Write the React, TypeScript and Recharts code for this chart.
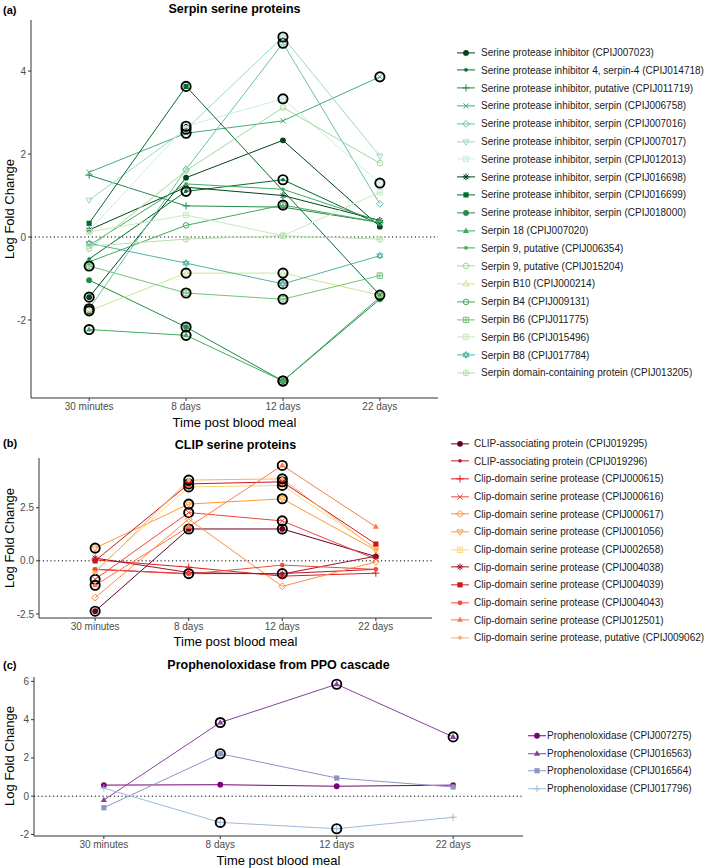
import React from "react";
import { LineChart, Line, XAxis, YAxis, ReferenceLine } from "recharts";

const FONT = '"Liberation Sans", Arial, Helvetica, sans-serif';

const times = ["30 minutes", "8 days", "12 days", "22 days"];

// (a) Serpin serine proteins
const serpinLabels = [
  "Serine protease inhibitor (CPIJ007023)",
  "Serine protease inhibitor 4, serpin-4 (CPIJ014718)",
  "Serine protease inhibitor, putative (CPIJ011719)",
  "Serine protease inhibitor, serpin (CPIJ006758)",
  "Serine protease inhibitor, serpin (CPIJ007016)",
  "Serine protease inhibitor, serpin (CPIJ007017)",
  "Serine protease inhibitor, serpin (CPIJ012013)",
  "Serine protease inhibitor, serpin (CPIJ016698)",
  "Serine protease inhibitor, serpin (CPIJ016699)",
  "Serine protease inhibitor, serpin (CPIJ018000)",
  "Serpin 18 (CPIJ007020)",
  "Serpin 9, putative (CPIJ006354)",
  "Serpin 9, putative (CPIJ015204)",
  "Serpin B10 (CPIJ000214)",
  "Serpin B4 (CPIJ009131)",
  "Serpin B6 (CPIJ011775)",
  "Serpin B6 (CPIJ015496)",
  "Serpin B8 (CPIJ017784)",
  "Serpin domain-containing protein (CPIJ013205)",
];
const serpinShapes = [
  "circle", "dot", "plus", "cross", "diamond", "triangleDown", "squareCross", "asterisk", "square", "circle",
  "triangle", "dot", "openCircle", "openTriangle", "openCircle", "squarePlus", "squarePlus", "star", "circlePlus",
];
const serpinColors = [
  "#00441b", "#006d2c", "#238b45", "#41ae76", "#66c2a4", "#99d8c9", "#ccece6", "#00441b", "#006d2c", "#238b45",
  "#41ab5d", "#41ab5d", "#a1d99b", "#c9e88f", "#41ab5d", "#74c476", "#c7e9c0", "#52b3a2", "#b5e0a8",
];
const serpinValues: (number | null)[][] = [
  [-1.45, 1.43, 2.33, 0.25],
  [-0.53, 1.1, 1.38, 0.3],
  [1.49, 0.75, 0.72, 0.35],
  [1.56, 2.5, 2.8, 3.86],
  [-1.73, 1.63, 4.67, 0.8],
  [0.89, 2.6, 4.82, 1.95],
  [0.15, 2.67, 3.33, 1.3],
  [0.17, 1.2, 1.0, 0.4],
  [0.33, 3.63, null, -1.4],
  [-1.04, -2.17, -3.47, -1.5],
  [-2.23, -2.37, -3.47, -1.45],
  [-0.2, 1.28, 1.15, 0.38],
  [-0.28, 1.6, 3.12, 1.78],
  [-1.78, -0.87, -0.87, -1.4],
  [-0.6, 0.28, 0.77, 0.35],
  [-0.7, -1.35, -1.5, -0.93],
  [0.12, 0.53, 0.03, 1.08],
  [-0.15, -0.63, -1.13, -0.45],
  [-0.22, -0.05, 0.03, -0.05],
];
const serpinSig = [
  [1, 0, 0, 0], [0, 1, 1, 0], [0, 0, 0, 0], [0, 1, 0, 1], [1, 0, 1, 0], [0, 1, 1, 0], [0, 1, 1, 1], [0, 0, 0, 0],
  [0, 1, 0, 0], [0, 1, 1, 0], [1, 1, 1, 0], [0, 0, 0, 0], [0, 0, 0, 0], [1, 1, 1, 1], [0, 0, 1, 0], [1, 1, 1, 0],
  [0, 0, 0, 0], [0, 0, 1, 0], [0, 0, 0, 0],
];
const serpinTicks = [-2, 0, 2, 4];

// (b) CLIP serine proteins
const clipLabels = [
  "CLIP-associating protein (CPIJ019295)",
  "CLIP-associating protein (CPIJ019296)",
  "Clip-domain serine protease (CPIJ000615)",
  "Clip-domain serine protease (CPIJ000616)",
  "Clip-domain serine protease (CPIJ000617)",
  "Clip-domain serine protease (CPIJ001056)",
  "Clip-domain serine protease (CPIJ002658)",
  "Clip-domain serine protease (CPIJ004038)",
  "Clip-domain serine protease (CPIJ004039)",
  "Clip-domain serine protease (CPIJ004043)",
  "Clip-domain serine protease (CPIJ012501)",
  "Clip-domain serine protease, putative (CPIJ009062)",
];
const clipShapes = [
  "circle", "dot", "plus", "cross", "diamond", "triangleDown", "squarePlus", "asterisk", "square", "circleMid",
  "triangle", "diamondSmall",
];
const clipColors = [
  "#67001f", "#c0142e", "#e31a1c", "#f4433a", "#fd8d3c", "#fd9b30", "#fdd77a", "#a3122e", "#cb181d", "#ef4b3c",
  "#fc7a4a", "#fdae6b",
];
const clipValues: (number | null)[][] = [
  [-2.37, 1.5, 1.5, 0.2],
  [-0.4, -0.6, -0.6, -0.4],
  [0.05, -0.3, -0.72, -0.58],
  [-0.87, 2.27, 1.88, 0.08],
  [-1.73, 1.96, -1.2, -0.05],
  [0.6, 2.67, 2.92, 0.5],
  [-0.45, 3.48, 3.55, 0.6],
  [0.13, -0.55, -0.62, 0.22],
  [0.0, 3.62, 3.72, 0.79],
  [-0.4, -0.62, -0.2, -0.4],
  [-1.15, 1.6, 4.49, 1.6],
  [-0.55, 3.8, 3.86, 0.55],
];
const clipSig = [
  [1, 1, 1, 0], [0, 1, 1, 0], [0, 0, 0, 0], [1, 1, 1, 0], [0, 0, 0, 0], [1, 1, 1, 0], [0, 1, 1, 0], [0, 0, 0, 0],
  [0, 1, 1, 0], [0, 0, 0, 0], [1, 0, 1, 0], [0, 1, 1, 0],
];
const clipTicks = [-2.5, 0, 2.5];

// (c) Prophenoloxidase
const ppoLabels = [
  "Prophenoloxidase (CPIJ007275)",
  "Prophenoloxidase (CPIJ016563)",
  "Prophenoloxidase (CPIJ016564)",
  "Prophenoloxidase (CPIJ017796)",
];
const ppoShapes = ["circle", "triangle", "square", "plus"];
const ppoColors = ["#7a0177", "#88419d", "#8c96c6", "#9ebcda"];
const ppoValues: (number | null)[][] = [
  [0.58, 0.6, 0.52, 0.58],
  [-0.2, 3.85, 5.85, 3.1],
  [-0.6, 2.22, 0.95, 0.48],
  [0.42, -1.37, -1.7, -1.1],
];
const ppoSig = [[0, 0, 0, 0], [0, 1, 1, 1], [0, 1, 0, 0], [0, 1, 1, 0]];
const ppoTicks = [-2, 0, 2, 4, 6];

function Glyph({ shape, x, y, c }: { shape: string; x: number; y: number; c: string }) {
  const s = { stroke: c, strokeWidth: 1, fill: "none" };
  const plus = (r: number) => `M${x - r} ${y}H${x + r}M${x} ${y - r}V${y + r}`;
  const cross = (r: number) => `M${x - r} ${y - r}L${x + r} ${y + r}M${x - r} ${y + r}L${x + r} ${y - r}`;
  switch (shape) {
    case "circle":
      return <circle cx={x} cy={y} r={2.9} fill={c} />;
    case "circleMid":
      return <circle cx={x} cy={y} r={2.4} fill={c} />;
    case "dot":
      return <circle cx={x} cy={y} r={1.8} fill={c} />;
    case "plus":
      return <path d={plus(3.6)} {...s} />;
    case "cross":
      return <path d={cross(2.6)} {...s} />;
    case "asterisk":
      return <path d={plus(3.4) + cross(2.4)} {...s} />;
    case "diamond":
      return <path d={`M${x} ${y - 3.4}L${x + 3.4} ${y}L${x} ${y + 3.4}L${x - 3.4} ${y}Z`} {...s} />;
    case "diamondSmall":
      return <path d={`M${x} ${y - 2.5}L${x + 2.5} ${y}L${x} ${y + 2.5}L${x - 2.5} ${y}Z`} fill={c} />;
    case "triangle":
      return <path d={`M${x} ${y - 3.4}L${x + 3.1} ${y + 2}L${x - 3.1} ${y + 2}Z`} fill={c} />;
    case "openTriangle":
      return <path d={`M${x} ${y - 3.4}L${x + 3.1} ${y + 2}L${x - 3.1} ${y + 2}Z`} {...s} />;
    case "triangleDown":
      return <path d={`M${x} ${y + 3.4}L${x + 3.1} ${y - 2}L${x - 3.1} ${y - 2}Z`} {...s} />;
    case "square":
      return <rect x={x - 2.6} y={y - 2.6} width={5.2} height={5.2} fill={c} />;
    case "squareCross":
      return <path d={`M${x - 2.7} ${y - 2.7}h5.4v5.4h-5.4Z` + cross(2.7)} {...s} />;
    case "squarePlus":
      return <path d={`M${x - 2.7} ${y - 2.7}h5.4v5.4h-5.4Z` + plus(2.7)} {...s} />;
    case "openCircle":
      return <circle cx={x} cy={y} r={2.8} {...s} />;
    case "circlePlus":
      return <path d={`M${x - 3} ${y}a3 3 0 1 0 6 0a3 3 0 1 0 -6 0` + plus(3)} {...s} />;
    case "star":
      return (
        <path
          d={`M${x} ${y - 3.4}L${x + 3} ${y + 1.7}L${x - 3} ${y + 1.7}ZM${x} ${y + 3.4}L${x + 3} ${y - 1.7}L${x - 3} ${y - 1.7}Z`}
          {...s}
        />
      );
    default:
      return <circle cx={x} cy={y} r={2.5} fill={c} />;
  }
}

const makeDot = (shape: string, color: string, sig: number[]) => (p: any) => {
  const { cx, cy, index, value } = p;
  if (cx == null || cy == null || value == null) return <g key={`e${index}`} />;
  return (
    <g key={`d${index}`}>
      <Glyph shape={shape} x={cx} y={cy} c={color} />
      {sig[index] ? <circle cx={cx} cy={cy} r={4.6} fill="none" stroke="#000" strokeWidth={1.9} /> : null}
    </g>
  );
};

function LegendBox({ left, top, gap, labels, colors, shapes, textGap }: any) {
  return (
    <div style={{ position: "absolute", left, top }}>
      {labels.map((l: string, k: number) => (
        <div key={k} style={{ height: gap, display: "flex", alignItems: "center" }}>
          <svg width={18} height={gap} style={{ display: "block" }}>
            <line x1={0} x2={18} y1={gap / 2} y2={gap / 2} stroke={colors[k]} strokeWidth={1} />
            <Glyph shape={shapes[k]} x={9} y={gap / 2} c={colors[k]} />
          </svg>
          <span style={{ marginLeft: textGap, fontSize: 10, color: "#1a1a1a", whiteSpace: "nowrap" }}>{l}</span>
        </div>
      ))}
    </div>
  );
}

function Panel(props: any) {
  const { top, height, plotTop, plotLeft, plotRight, domain, ticks, fmt, values, sig, colors, shapes } = props;
  const rows = times.map((t, i) => {
    const r: any = { time: t };
    values.forEach((v: (number | null)[], k: number) => {
      r["s" + k] = v[i];
    });
    return r;
  });
  const pad = ((plotRight - plotLeft) * 0.6) / 4.2;
  const axisStyle = { stroke: "#333", strokeWidth: 1 };
  const tickStyle = { fill: "#4d4d4d", fontSize: 10, fontFamily: FONT };
  return (
    <div style={{ position: "absolute", left: 0, top }}>
      <LineChart
        width={709}
        height={height}
        data={rows}
        margin={{ top: plotTop - top, right: 709 - plotRight, left: 0, bottom: 0 }}
      >
        <XAxis
          dataKey="time"
          interval={0}
          padding={{ left: pad, right: pad }}
          axisLine={axisStyle}
          tickLine={axisStyle}
          tickSize={3}
          tick={tickStyle}
          height={22}
        />
        <YAxis
          type="number"
          domain={domain}
          ticks={ticks}
          allowDataOverflow
          tickFormatter={fmt}
          width={plotLeft}
          axisLine={axisStyle}
          tickLine={axisStyle}
          tickSize={3}
          tick={tickStyle}
        />
        <ReferenceLine y={0} stroke="#000" strokeDasharray="1.2 2.6" strokeWidth={1} />
        {values.map((_: any, k: number) => (
          <Line
            key={k}
            dataKey={"s" + k}
            stroke={colors[k]}
            strokeWidth={1}
            connectNulls
            dot={makeDot(shapes[k], colors[k], sig[k])}
            activeDot={false}
            isAnimationActive={false}
          />
        ))}
      </LineChart>
    </div>
  );
}

function Txt({ x, y, size, bold, rotate, anchor, children }: any) {
  return (
    <div
      style={{
        position: "absolute",
        left: x,
        top: y,
        fontSize: size,
        fontWeight: bold ? 700 : 400,
        whiteSpace: "nowrap",
        lineHeight: 1,
        color: "#000",
        transform: `translate(${anchor === "start" ? "0" : "-50%"}, -50%)${rotate ? " rotate(-90deg)" : ""}`,
      }}
    >
      {children}
    </div>
  );
}

export default function App() {
  return (
    <div
      style={{ position: "absolute", left: 0, top: 0, width: 709, height: 868, background: "#fff", fontFamily: FONT }}
    >
      {/* (a) */}
      <Txt x={3} y={10} size={11} bold anchor="start">(a)</Txt>
      <Txt x={234.5} y={9} size={12.5} bold>Serpin serine proteins</Txt>
      <Txt x={9} y={209} size={13} rotate>Log Fold Change</Txt>
      <Txt x={234.5} y={422} size={13}>Time post blood meal</Txt>
      <Panel
        top={0}
        height={420}
        plotTop={20}
        plotLeft={31}
        plotRight={438}
        domain={[-3.88, 5.23]}
        ticks={serpinTicks}
        fmt={(v: number) => String(v)}
        values={serpinValues}
        sig={serpinSig}
        colors={serpinColors}
        shapes={serpinShapes}
      />
      <LegendBox left={457} top={43.6} gap={17.8} labels={serpinLabels} colors={serpinColors} shapes={serpinShapes} textGap={6} />

      {/* (b) */}
      <Txt x={3} y={443} size={11} bold anchor="start">(b)</Txt>
      <Txt x={235.5} y={445} size={12.5} bold>CLIP serine proteins</Txt>
      <Txt x={9} y={538} size={13} rotate>Log Fold Change</Txt>
      <Txt x={235.5} y={641} size={13}>Time post blood meal</Txt>
      <Panel
        top={440}
        height={200}
        plotTop={458}
        plotLeft={39}
        plotRight={432}
        domain={[-2.69, 4.84]}
        ticks={clipTicks}
        fmt={(v: number) => v.toFixed(1)}
        values={clipValues}
        sig={clipSig}
        colors={clipColors}
        shapes={clipShapes}
      />
      <LegendBox left={451} top={434.5} gap={17.7} labels={clipLabels} colors={clipColors} shapes={clipShapes} textGap={5} />

      {/* (c) */}
      <Txt x={3} y={665} size={11} bold anchor="start">(c)</Txt>
      <Txt x={278.5} y={665} size={12.5} bold>Prophenoloxidase from PPO cascade</Txt>
      <Txt x={9} y={756} size={13} rotate>Log Fold Change</Txt>
      <Txt x={278.5} y={860} size={13}>Time post blood meal</Txt>
      <Panel
        top={657}
        height={201}
        plotTop={677}
        plotLeft={34}
        plotRight={523}
        domain={[-2.08, 6.23]}
        ticks={ppoTicks}
        fmt={(v: number) => String(v)}
        values={ppoValues}
        sig={ppoSig}
        colors={ppoColors}
        shapes={ppoShapes}
      />
      <LegendBox left={528} top={727} gap={17.5} labels={ppoLabels} colors={ppoColors} shapes={ppoShapes} textGap={1} />
    </div>
  );
}
